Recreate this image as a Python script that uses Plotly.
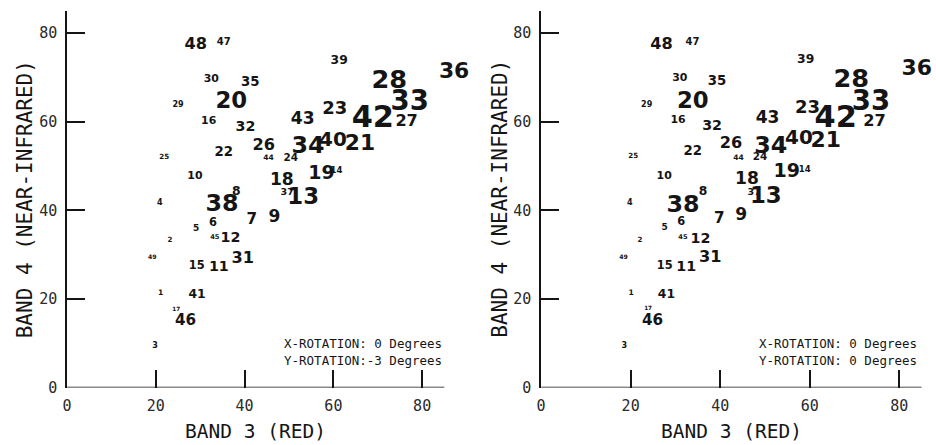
import plotly.graph_objects as go

# ---------------- data ----------------
labels = ["48", "47", "39", "36", "30", "35", "28", "29", "20", "33",
          "23", "43", "42", "27", "16", "32", "26", "40", "21", "34",
          "22", "25", "44", "24", "10", "19", "14", "18", "8", "37",
          "13", "38", "4", "7", "9", "6", "5", "45", "12", "2",
          "49", "31", "15", "11", "1", "41", "17", "46", "3"]

# third dimension (depth), shown through label size
depth = [17, 10.5, 13, 23, 11.5, 14, 27, 8.5, 24, 29,
         19, 18, 32, 17, 11.5, 15, 17, 21, 23, 25,
         14, 7.5, 8, 11, 11.5, 20, 9, 18, 13, 10,
         24, 25, 8.5, 16, 18, 12, 9.5, 7, 15, 7.5,
         6.5, 17, 12, 15, 8, 13, 6, 16, 8.5]

# left view (Y-rotation -3 degrees)
band3_left = [29.0, 35.3, 61.3, 87.2, 32.5, 41.3, 72.6, 25.0, 37.0, 77.2,
              60.3, 53.1, 68.9, 76.5, 31.9, 40.2, 44.3, 59.9, 66.0, 54.3,
              35.3, 21.9, 45.4, 50.4, 28.8, 57.3, 60.7, 48.4, 38.1, 49.6,
              53.2, 34.9, 20.9, 41.6, 46.7, 32.9, 29.1, 33.3, 36.8, 23.2,
              19.2, 39.6, 29.2, 34.2, 21.1, 29.3, 24.6, 26.7, 19.8]
band4_left = [77.4, 77.8, 73.7, 71.2, 69.7, 68.9, 69.0, 63.9, 64.4, 64.2,
              62.7, 60.5, 60.5, 60.0, 60.2, 58.8, 54.6, 55.7, 54.9, 54.2,
              53.1, 52.1, 51.8, 51.8, 47.6, 48.1, 48.9, 46.8, 44.2, 44.0,
              42.8, 41.1, 41.7, 37.8, 38.3, 37.2, 35.8, 33.9, 33.6, 33.2,
              29.3, 29.1, 27.5, 27.1, 21.4, 20.8, 17.7, 14.9, 9.4]

# right view (Y-rotation 0 degrees)
band3_right = [26.9, 33.8, 59.1, 83.9, 31.0, 39.3, 69.3, 23.6, 33.9, 73.7,
               59.5, 50.6, 65.8, 74.5, 30.6, 38.2, 42.4, 57.6, 63.6, 51.3,
               33.9, 20.6, 44.1, 48.9, 27.5, 54.9, 58.9, 46.0, 36.2, 47.6,
               50.2, 31.7, 19.8, 39.8, 44.7, 31.3, 27.6, 31.7, 35.6, 22.1,
               18.4, 37.8, 27.6, 32.4, 20.1, 28.0, 23.9, 24.9, 18.6]
band4_right = [77.3, 77.9, 74.0, 71.7, 69.8, 69.0, 69.2, 63.9, 64.3, 64.3,
               63.0, 60.8, 60.6, 60.0, 60.4, 58.9, 55.0, 56.2, 55.6, 54.2,
               53.3, 52.3, 51.9, 52.0, 47.7, 48.5, 49.1, 47.0, 44.2, 44.0,
               42.9, 40.9, 41.7, 38.0, 38.7, 37.4, 36.0, 34.0, 33.5, 33.2,
               29.3, 29.3, 27.5, 27.1, 21.4, 20.8, 17.9, 15.0, 9.4]

tick_vals = [0, 20, 40, 60, 80]
tick_text = ["0", "20", "40", "60", "80"]
axis_max = 85
x_title = "BAND 3 (RED)"
y_title = "BAND 4 (NEAR-INFRARED)"
rot_left = ["X-ROTATION: 0 Degrees", "Y-ROTATION:-3 Degrees"]
rot_right = ["X-ROTATION: 0 Degrees", "Y-ROTATION: 0 Degrees"]

# ---------------- figure ----------------
W, H = 936, 445
INK = "#151515"
NUM_FONT = "DejaVu Sans"
MONO = "DejaVu Sans Mono"
X_VIEW = 92  # visible x-range (labels may sit past the drawn axis end)

font_px = [d * 0.95 for d in depth]

# pixel placement of the axes
y_bot, y_top = 395.5, 11.3
left_x0, left_x1 = 62.4, 441.7          # x = 0 .. axis_max
right_x0, right_x1 = 539.0, 921.5


def ext(x0, x1):
    s = (x1 - x0) / axis_max
    return [x0 / W, min(1.0, (x0 + s * X_VIEW) / W)], (min(W, x0 + s * X_VIEW) - x0) / s


left_dom, left_rng = ext(left_x0, left_x1)
right_dom, right_rng = ext(right_x0, right_x1)
y_dom = [(H - y_bot) / H, (H - y_top) / H]

fig = go.Figure()
for xs, ys, xa, ya in [(band3_left, band4_left, "x", "y"),
                       (band3_right, band4_right, "x2", "y2")]:
    fig.add_trace(go.Scatter(x=xs, y=ys, mode="text", text=labels,
                             textposition="middle center", cliponaxis=False,
                             textfont=dict(size=font_px, family=NUM_FONT,
                                           color=INK, weight="bold"),
                             hoverinfo="skip", xaxis=xa, yaxis=ya))

tick_common = dict(tickvals=tick_vals, ticktext=tick_text,
                   ticks="inside", ticklen=18, tickwidth=1.5, tickcolor=INK,
                   showgrid=False, zeroline=False, mirror=False,
                   tickfont=dict(family=MONO, size=15, color="#2a2a2a"))

fig.update_layout(
    width=W, height=H, margin=dict(l=0, r=0, t=0, b=0),
    paper_bgcolor="white", plot_bgcolor="white", showlegend=False,
    xaxis=dict(domain=left_dom, anchor="y", range=[0, left_rng], showline=False,
               ticklabelstandoff=7, **tick_common),
    yaxis=dict(domain=y_dom, anchor="x", range=[0, axis_max], showline=True,
               linewidth=1.5, linecolor=INK, ticklabelstandoff=5, **tick_common),
    xaxis2=dict(domain=right_dom, anchor="y2", range=[0, right_rng], showline=False,
                ticklabelstandoff=7, **tick_common),
    yaxis2=dict(domain=y_dom, anchor="x2", range=[0, axis_max], showline=True,
                linewidth=1.5, linecolor=INK, ticklabelstandoff=5, **tick_common),
)

# x-axis baselines ending at axis_max
for xa, ya in [("x", "y"), ("x2", "y2")]:
    fig.add_shape(type="line", xref=xa, yref=ya, x0=0, x1=axis_max, y0=0, y1=0,
                  line=dict(color=INK, width=1.5), layer="above")

annos = []
for (x0, x1), ytx in [((left_x0, left_x1), 20.5), ((right_x0, right_x1), 497.5)]:
    annos.append(dict(text=x_title, xref="paper", yref="paper",
                      x=(x0 + x1) / 2 / W, y=(H - 440) / H,
                      xanchor="center", yanchor="middle", showarrow=False,
                      font=dict(family=MONO, size=19.5, color=INK)))
    annos.append(dict(text=y_title, xref="paper", yref="paper",
                      x=ytx / W, y=(H - 203) / H, textangle=-90,
                      xanchor="center", yanchor="middle", showarrow=False,
                      font=dict(family=MONO, size=21, color=INK)))
for x0, lines in [(278 / W, rot_left), (756 / W, rot_right)]:
    for i, line in enumerate(lines):
        annos.append(dict(text=line, xref="paper", yref="paper",
                          x=x0, y=(H - (351 + 17 * i)) / H,
                          xanchor="left", yanchor="middle", showarrow=False,
                          font=dict(family=MONO, size=12.5, color=INK)))
fig.update_layout(annotations=annos)

fig.write_html("out.html")
